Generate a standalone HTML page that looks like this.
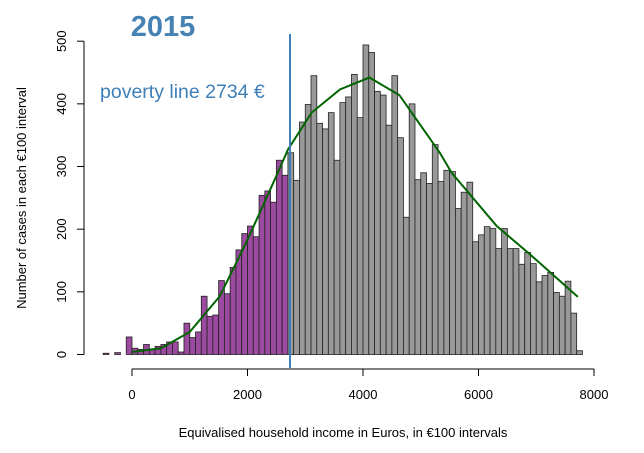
<!DOCTYPE html>
<html><head><meta charset="utf-8"><style>
body{margin:0;background:#fff;}
svg{display:block;font-family:"Liberation Sans",sans-serif;}
</style></head><body>
<svg id="chart" width="644" height="453">
<g id="bars"></g>
<polyline id="curve" fill="none" stroke="#006400" stroke-width="2"/>
<line x1="290" y1="34" x2="290" y2="368" stroke="#3e7fb8" stroke-width="2"/>
<text x="163" y="36" font-size="29" font-weight="bold" fill="#4682b4" text-anchor="middle">2015</text>
<text x="100" y="98" font-size="19.5" fill="#3e7fb8">poverty line 2734 €</text>
<g id="yaxis"></g>
<g id="xaxis"></g>
<text transform="translate(26,198) rotate(-90)" font-size="13" text-anchor="middle">Number of cases in each €100 interval</text>
<text x="343" y="437" font-size="13" text-anchor="middle">Equivalised household income in Euros, in €100 intervals</text>
</svg>
<script>
const binStarts=[-500,-400,-300,-200,-100,0,100,200,300,400,500,600,700,800,900,1000,1100,1200,1300,1400,1500,1600,1700,1800,1900,2000,2100,2200,2300,2400,2500,2600,2700,2800,2900,3000,3100,3200,3300,3400,3500,3600,3700,3800,3900,4000,4100,4200,4300,4400,4500,4600,4700,4800,4900,5000,5100,5200,5300,5400,5500,5600,5700,5800,5900,6000,6100,6200,6300,6400,6500,6600,6700,6800,6900,7000,7100,7200,7300,7400,7500,7600,7700];
const counts=[2,0,3,0,28,10,8,16,9,13,16,20,20,4,50,27,36,93,61,63,118,97,139,167,193,205,188,254,261,243,310,286,322,278,371,399,445,369,360,386,310,402,411,447,378,494,482,420,414,366,445,346,219,400,279,290,273,335,276,294,292,233,259,275,180,191,204,201,169,201,169,169,144,163,145,116,126,131,99,93,117,66,6];
const curveX=[0,500,1000,1520,1990,2500,2700,3110,3600,4110,4630,5330,5535,6315,6890,7720];
const curveY=[4,10,36,93,181,285,327,386,423,442,414,322,290,205,160,92];
const yTicks=[0,100,200,300,400,500];
const xTicks=[0,2000,4000,6000,8000];
const povertyLine=2734;
const NS="http://www.w3.org/2000/svg";
const sx=v=>132+v*0.05775;
const sy=v=>354.5-v*0.6266;
const bars=document.getElementById('bars');
binStarts.forEach((b,i)=>{
  const r=document.createElementNS(NS,'rect');
  
  
  const x0=sx(b),x1=sx(b+100);
  r.setAttribute('x',x0);r.setAttribute('width',x1-x0);
  r.setAttribute('y',sy(counts[i]));r.setAttribute('height',Math.max(0,sy(0)-sy(counts[i])));
  r.setAttribute('fill',b+100<=povertyLine?'#9b4a9f':'#999999');
  r.setAttribute('stroke','#222');r.setAttribute('stroke-width','0.8');
  bars.appendChild(r);
});
document.getElementById('curve').setAttribute('points',curveX.map((x,i)=>sx(x)+','+sy(curveY[i])).join(' '));
const ya=document.getElementById('yaxis');
let l=document.createElementNS(NS,'line');
l.setAttribute('x1',84);l.setAttribute('x2',84);l.setAttribute('y1',sy(0));l.setAttribute('y2',sy(500));l.setAttribute('stroke','#000');
ya.appendChild(l);
yTicks.forEach(t=>{
  const tk=document.createElementNS(NS,'line');
  
  
  tk.setAttribute('x1',77);tk.setAttribute('x2',84);tk.setAttribute('y1',sy(t));tk.setAttribute('y2',sy(t));tk.setAttribute('stroke','#000');
  ya.appendChild(tk);
  const tx=document.createElementNS(NS,'text');
  
  
  tx.setAttribute('transform','translate(66,'+sy(t)+') rotate(-90)');
  tx.setAttribute('text-anchor','middle');tx.setAttribute('font-size','13');
  tx.textContent=t;ya.appendChild(tx);
});
const xa=document.getElementById('xaxis');
l=document.createElementNS(NS,'line');
l.setAttribute('x1',sx(0));l.setAttribute('x2',sx(8000));l.setAttribute('y1',369);l.setAttribute('y2',369);l.setAttribute('stroke','#000');
xa.appendChild(l);
xTicks.forEach(t=>{
  const tk=document.createElementNS(NS,'line');
  
  
  tk.setAttribute('x1',sx(t));tk.setAttribute('x2',sx(t));tk.setAttribute('y1',369);tk.setAttribute('y2',376);tk.setAttribute('stroke','#000');
  xa.appendChild(tk);
  const tx=document.createElementNS(NS,'text');
  
  
  tx.setAttribute('x',sx(t));tx.setAttribute('y',399);
  tx.setAttribute('text-anchor','middle');tx.setAttribute('font-size','13');
  tx.textContent=t;xa.appendChild(tx);
});
</script>
</body></html>
